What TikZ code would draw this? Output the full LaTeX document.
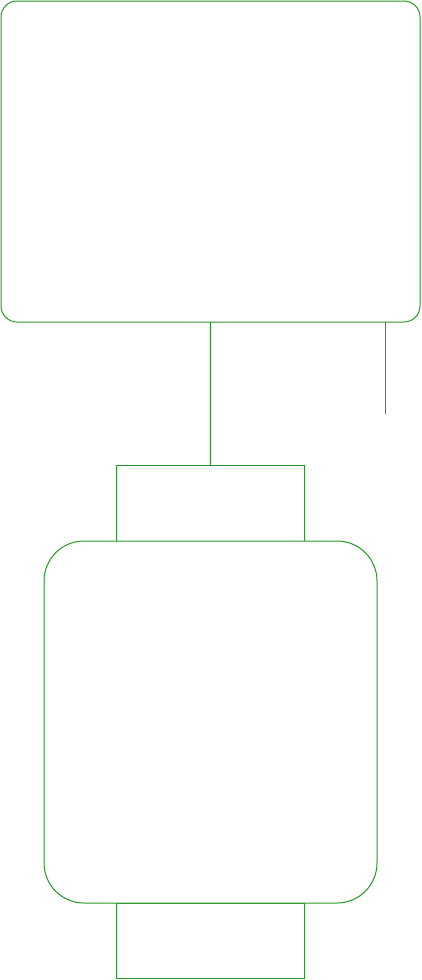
\documentclass[tikz,border=0pt]{standalone}
\usetikzlibrary{positioning}
\definecolor{watchgreen}{RGB}{40,150,40}
\tikzset{part/.style={draw=watchgreen, line width=1pt, inner sep=0pt, outer sep=0pt}}
\begin{document}
\begin{tikzpicture}[x=1pt,y=-1pt,line width=1pt]
    \useasboundingbox (0,0) rectangle (421,980);
    \node[part, rounded corners=16pt, minimum width=419pt, minimum height=321pt] (screen) at (210.5,161.5) {};
    \node[part, minimum width=187.5pt, minimum height=76pt] (bandtop) at (210.25,503) {};
    \node[part, minimum width=187.5pt, minimum height=75pt] (bandbot) at (210.25,940.5) {};
    \node[part, rounded corners=40pt, fill=white, minimum width=333pt, minimum height=362pt] (case) at (210.5,722) {};
    \coordinate (pin) at (385.5,414);
    \draw[watchgreen] (screen.south) -- (bandtop.north);
    \draw[watchgreen] (screen.south -| pin) -- (pin);
\end{tikzpicture}
\end{document}
